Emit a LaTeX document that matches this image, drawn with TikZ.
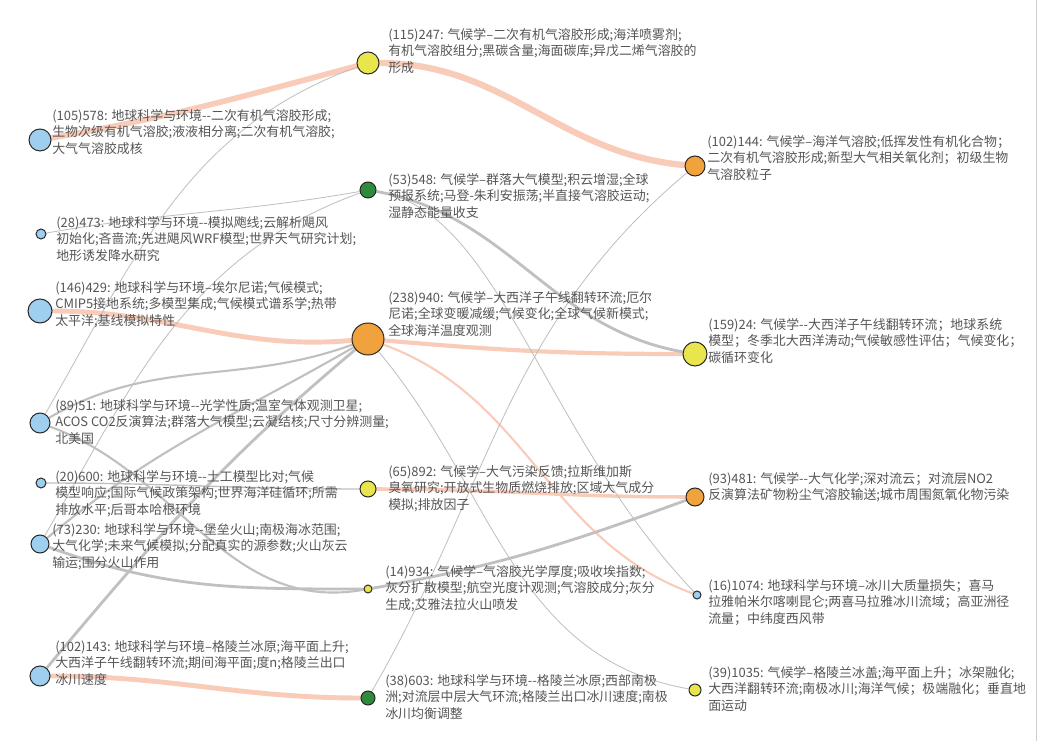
\documentclass[tikz,border=0pt]{standalone}
\usepackage{fontspec}
\setmainfont{Noto Sans CJK SC}
\usetikzlibrary{backgrounds}
\definecolor{topicblue}{RGB}{158,207,238}
\definecolor{topicorange}{RGB}{240,162,60}
\definecolor{topicyellow}{RGB}{232,230,76}
\definecolor{topicgreen}{RGB}{46,139,60}
\definecolor{hotlink}{RGB}{249,203,185}
\definecolor{coldlink}{RGB}{192,192,192}
\definecolor{labelgray}{RGB}{85,85,85}

\tikzset{
  topic/.style={circle, draw=black!85, line width=0.7pt, inner sep=0pt},
  desc/.style={anchor=north west, inner sep=0pt, align=left, text=labelgray,
    font=\fontsize{9.2}{11.7}\selectfont},
  hot/.style={draw=hotlink, line cap=round},
  cold/.style={draw=coldlink, line width=0.6pt},
}

\begin{document}
\begin{tikzpicture}[x=0.025cm, y=-0.025cm]
  \useasboundingbox (0,0) rectangle (1048,741);
  \draw[black!20] (1036,0) -- (1036,741);

  % Left column
  \node[topic, fill=topicblue, minimum size=0.55cm] (n578) at (40,140) {};
  \node[topic, fill=topicblue, minimum size=0.25cm] (n473) at (41,234) {};
  \node[topic, fill=topicblue, minimum size=0.6cm] (n429) at (40,311) {};
  \node[topic, fill=topicblue, minimum size=0.5cm] (n51) at (40,423) {};
  \node[topic, fill=topicblue, minimum size=0.25cm] (n600) at (41,483) {};
  \node[topic, fill=topicblue, minimum size=0.45cm] (n230) at (40,544) {};
  \node[topic, fill=topicblue, minimum size=0.5cm] (n143) at (40,676) {};

  % Middle column
  \node[topic, fill=topicyellow, minimum size=0.55cm] (n247) at (368,63) {};
  \node[topic, fill=topicgreen, minimum size=0.4cm] (n548) at (368,190) {};
  \node[topic, fill=topicorange, minimum size=0.8cm] (n940) at (368,339) {};
  \node[topic, fill=topicyellow, minimum size=0.4cm] (n892) at (368,489) {};
  \node[topic, fill=topicyellow, minimum size=0.2cm] (n934) at (368,589) {};
  \node[topic, fill=topicgreen, minimum size=0.35cm] (n603) at (368,698) {};

  % Right column
  \node[topic, fill=topicorange, minimum size=0.5cm] (n144) at (695,166) {};
  \node[topic, fill=topicyellow, minimum size=0.6cm] (n24) at (695,354) {};
  \node[topic, fill=topicorange, minimum size=0.45cm] (n481) at (695,497) {};
  \node[topic, fill=topicblue, minimum size=0.2cm] (n1074) at (697,595) {};
  \node[topic, fill=topicyellow, minimum size=0.3cm] (n1035) at (695,690) {};

  % Links
  \begin{scope}[on background layer]
    \draw[hot, line width=4pt] (n578) to[out=10, in=195] (n247);
    \draw[hot, line width=4.5pt] (n247) to[out=0, in=175] (n144);
    \draw[hot, line width=3.5pt] (n429) to[out=0, in=185] (n940);
    \draw[hot, line width=3pt] (n940) to[out=-5, in=180] (n24);
    \draw[hot, line width=1.5pt] (n940) to[out=-20, in=160] (n1074);
    \draw[hot, line width=2.5pt] (n892) to[out=0, in=180] (n481);
    \draw[hot, line width=3.5pt] (n143) to[out=0, in=180] (n603);

    \draw[cold, line width=2pt] (n548) to[out=-10, in=170] (n24);
    \draw[cold] (n548) .. controls (500,210) and (540,430) .. (n1074);
    \draw[cold] (n473) to[out=10, in=190] (n548);
    \draw[cold] (n247) to[out=200, in=60] (n51);
    \draw[cold] (n548) to[out=200, in=60] (n230);
    \draw[cold, line width=1.5pt] (n51) to[out=30, in=200] (n940);
    \draw[cold, line width=1.5pt] (n51) to[out=-20, in=190] (n934);
    \draw[cold, line width=1.5pt] (n230) to[out=40, in=210] (n940);
    \draw[cold, line width=2pt] (n143) to[out=50, in=220] (n940);
    \draw[cold, line width=1pt] (n600) to[out=0, in=180] (n892);
    \draw[cold, line width=2pt] (n230) to[out=-20, in=180] (n934);
    \draw[cold, line width=2pt] (n934) to[out=10, in=200] (n481);
    \draw[cold] (n940) to[out=-50, in=170] (n1035);
    \draw[cold] (n144) to[out=220, in=60] (n603);
  \end{scope}

  % Descriptions
  \node[desc] (d578) at (52,109) {(105)578: 地球科学与环境-{}-二次有机气溶胶形成;\\生物次级有机气溶胶;液液相分离;二次有机气溶胶;\\大气气溶胶成核};
  \node[desc] (d473) at (56,216) {(28)473: 地球科学与环境-{}-模拟飑线;云解析飓风\\初始化;吝啬流;先进飓风WRF模型;世界天气研究计划;\\地形诱发降水研究};
  \node[desc] (d429) at (55,281) {(146)429: 地球科学与环境–埃尔尼诺;气候模式;\\CMIP5接地系统;多模型集成;气候模式谱系学;热带\\太平洋;基线模拟特性};
  \node[desc] (d51) at (55,399) {(89)51: 地球科学与环境-{}-光学性质;温室气体观测卫星;\\ACOS CO2反演算法;群落大气模型;云凝结核;尺寸分辨测量;\\北美国};
  \node[desc] (d600) at (55,470) {(20)600: 地球科学与环境-{}-土工模型比对;气候\\模型响应;国际气候政策架构;世界海洋硅循环;所需\\排放水平;后哥本哈根环境};
  \node[desc] (d230) at (52,523) {(73)230: 地球科学与环境-{}-堡垒火山;南极海冰范围;\\大气化学;未来气候模拟;分配真实的源参数;火山灰云\\输运;围分火山作用};
  \node[desc] (d143) at (55,640) {(102)143: 地球科学与环境–格陵兰冰原;海平面上升;\\大西洋子午线翻转环流;期间海平面;度n;格陵兰出口\\冰川速度};

  \node[desc] (d247) at (388,28) {(115)247: 气候学–二次有机气溶胶形成;海洋喷雾剂;\\有机气溶胶组分;黑碳含量;海面碳库;异戊二烯气溶胶的\\形成};
  \node[desc] (d548) at (388,173) {(53)548: 气候学–群落大气模型;积云增湿;全球\\预报系统;马登-朱利安振荡;半直接气溶胶运动;\\湿静态能量收支};
  \node[desc] (d940) at (388,291) {(238)940: 气候学–大西洋子午线翻转环流;厄尔\\尼诺;全球变暖减缓;气候变化;全球气候新模式;\\全球海洋温度观测};
  \node[desc] (d892) at (388,465) {(65)892: 气候学–大气污染反馈;拉斯维加斯\\臭氧研究;开放式生物质燃烧排放;区域大气成分\\模拟;排放因子};
  \node[desc] (d934) at (385,565) {(14)934: 气候学–气溶胶光学厚度;吸收埃指数;\\灰分扩散模型;航空光度计观测;气溶胶成分;灰分\\生成;艾雅法拉火山喷发};
  \node[desc] (d603) at (385,674) {(38)603: 地球科学与环境-{}-格陵兰冰原;西部南极\\洲;对流层中层大气环流;格陵兰出口冰川速度;南极\\冰川均衡调整};

  \node[desc] (d144) at (707,135) {(102)144: 气候学–海洋气溶胶;低挥发性有机化合物；\\二次有机气溶胶形成;新型大气相关氧化剂；初级生物\\气溶胶粒子};
  \node[desc] (d24) at (708,318) {(159)24: 气候学-{}-大西洋子午线翻转环流；地球系统\\模型；冬季北大西洋涛动;气候敏感性评估；气候变化；\\碳循环变化};
  \node[desc] (d481) at (708,472) {(93)481: 气候学-{}-大气化学;深对流云；对流层NO2\\反演算法矿物粉尘气溶胶输送;城市周围氮氧化物污染};
  \node[desc] (d1074) at (708,579) {(16)1074: 地球科学与环境–冰川大质量损失；喜马\\拉雅帕米尔喀喇昆仑;两喜马拉雅冰川流域；高亚洲径\\流量；中纬度西风带};
  \node[desc] (d1035) at (708,666) {(39)1035: 气候学–格陵兰冰盖;海平面上升；冰架融化;\\大西洋翻转环流;南极冰川;海洋气候；极端融化；垂直地\\面运动};
\end{tikzpicture}
\end{document}
